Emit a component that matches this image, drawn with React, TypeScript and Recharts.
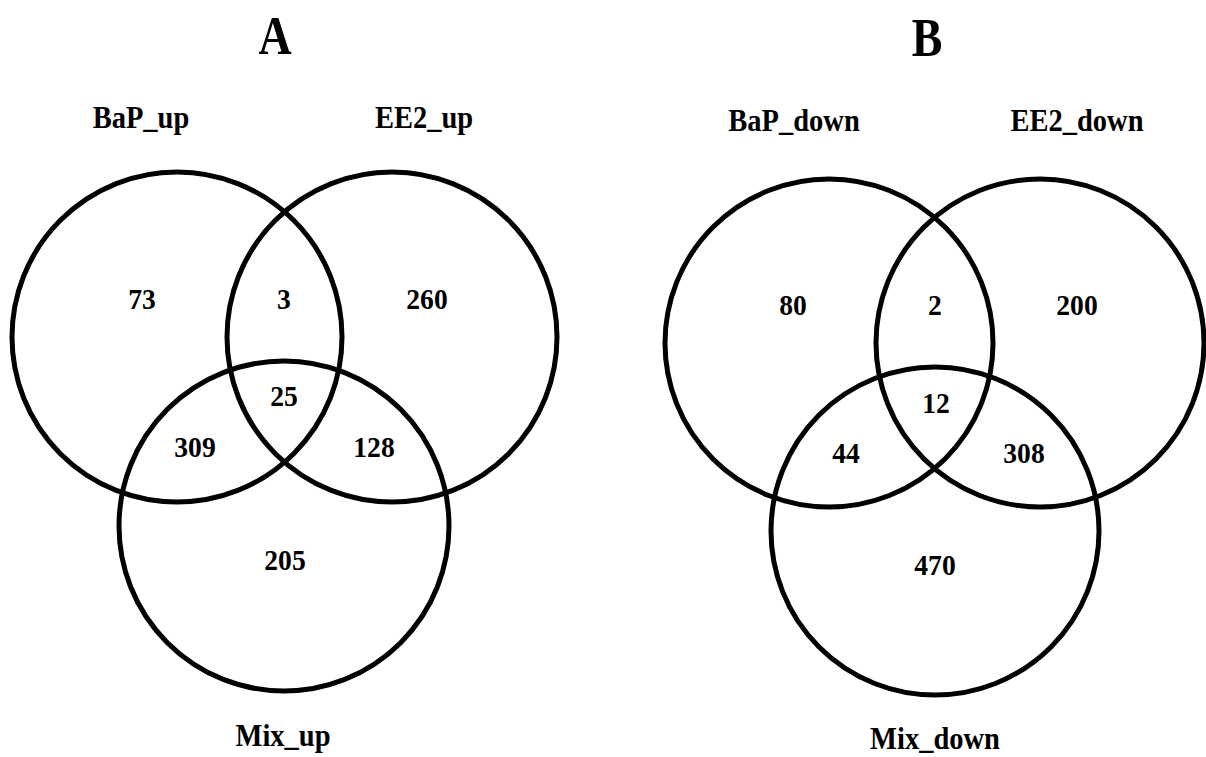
import React from 'react';
import { ScatterChart, Scatter, XAxis, YAxis } from 'recharts';

// ---- data ----
const panelTitles = ['A', 'B'];
const upSets = ['BaP_up', 'EE2_up', 'Mix_up'];
const downSets = ['BaP_down', 'EE2_down', 'Mix_down'];
// regions: BaP only, BaP∩EE2, EE2 only, BaP∩Mix, all three, EE2∩Mix, Mix only
const regionNames = ['BaP only', 'BaP∩EE2', 'EE2 only', 'BaP∩Mix', 'BaP∩EE2∩Mix', 'EE2∩Mix', 'Mix only'];
const upCounts = [73, 3, 260, 309, 25, 128, 205];
const downCounts = [80, 2, 200, 44, 12, 308, 470];

// ---- layout (page geometry of the two Venn panels) ----
const CHART_W = 1206;
const CHART_H = 757;
const X_MIN = 0;
const X_MAX = X_MIN + CHART_W;
const Y_MIN = 0;
const Y_MAX = Y_MIN + CHART_H;
const PX_PER_UNIT = CHART_W / (X_MAX - X_MIN);

const layouts = [
  {
    title: [275, 54],
    circles: [[177, 337], [392, 337], [284, 526]],
    r: 165,
    setLabels: [[141, 128], [424, 128], [283, 746]],
    regions: [[142, 298], [284, 298], [427, 298], [195, 446], [284, 395], [374, 446], [285, 559]],
  },
  {
    title: [927, 56],
    circles: [[829, 343], [1040, 343], [935, 531]],
    r: 164,
    setLabels: [[794, 131], [1077, 131], [935, 749]],
    regions: [[793, 304], [935, 304], [1077, 304], [846, 452], [936, 402], [1024, 452], [935, 564]],
  },
];

const FONT = '"Liberation Serif", "Times New Roman", serif';

const setNames = [upSets, downSets];
const counts = [upCounts, downCounts];

const circleData = layouts.flatMap((l) => l.circles.map(([x, y]) => ({ x, y, r: l.r })));
const regionData = layouts.flatMap((l, p) =>
  l.regions.map(([x, y], i) => ({ x, y, text: String(counts[p][i]), name: regionNames[i], kind: 'num' }))
);
const setLabelData = layouts.flatMap((l, p) =>
  l.setLabels.map(([x, y], i) => ({ x, y, text: setNames[p][i], kind: 'set' }))
);
const titleData = layouts.map((l, p) => ({ x: l.title[0], y: l.title[1], text: panelTitles[p], kind: 'title' }));

const CircleShape = (props: any) => {
  const { cx, cy, payload } = props;
  return (
    <circle cx={cx} cy={cy} r={payload.r * PX_PER_UNIT} fill="none" stroke="#000" strokeWidth={5} />
  );
};

const TextShape = (props: any) => {
  const { cx, cy, payload } = props;
  let fontSize = 30;
  let sx = 0.92;
  let dy = 10.5;
  if (payload.kind === 'set') {
    fontSize = 31;
    sx = 0.92;
    dy = 0;
  } else if (payload.kind === 'title') {
    fontSize = 54;
    sx = 0.85;
    dy = 0;
  }
  return (
    <g transform={`translate(${cx},${cy}) scale(${sx},1)`}>
      <text
        x={0}
        y={dy}
        textAnchor="middle"
        fontFamily={FONT}
        fontWeight="bold"
        fontSize={fontSize}
        fill="#000"
      >
        {payload.text}
      </text>
    </g>
  );
};

export default function App() {
  return (
    <div style={{ position: 'absolute', left: 0, top: 0, width: CHART_W, height: CHART_H, background: '#fff' }}>
      <ScatterChart width={CHART_W} height={CHART_H} margin={{ top: 0, right: 0, bottom: 0, left: 0 }}>
        <XAxis type="number" dataKey="x" domain={[X_MIN, X_MAX]} hide />
        <YAxis type="number" dataKey="y" domain={[Y_MIN, Y_MAX]} reversed hide />
        <Scatter data={circleData} shape={CircleShape} isAnimationActive={false} />
        <Scatter data={regionData} shape={TextShape} isAnimationActive={false} />
        <Scatter data={setLabelData} shape={TextShape} isAnimationActive={false} />
        <Scatter data={titleData} shape={TextShape} isAnimationActive={false} />
      </ScatterChart>
    </div>
  );
}
